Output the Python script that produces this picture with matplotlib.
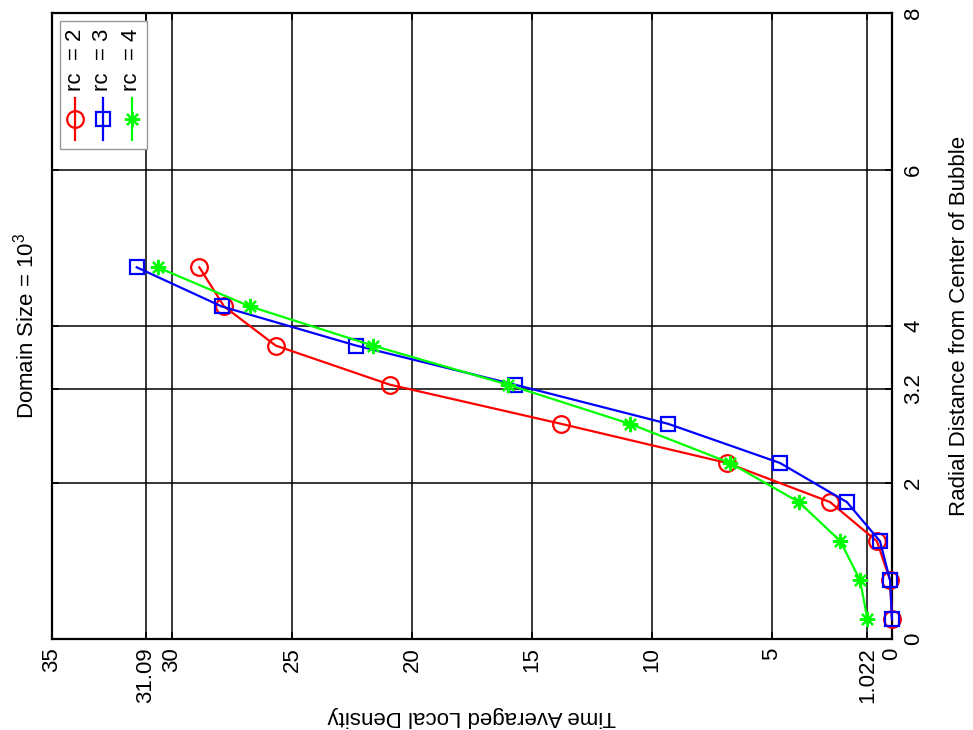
import numpy as np
import matplotlib.pyplot as plt

plt.rcParams['font.family'] = ['Liberation Sans', 'DejaVu Sans']
plt.rcParams['mathtext.default'] = 'regular'

# radial distance from bubble centre (vertical axis in the rotated picture)
radius = [0.25, 0.75, 1.25, 1.75, 2.25, 2.75, 3.25, 3.75, 4.25, 4.75]

# time averaged local density for each rc
dens_rc2 = [0.0, 0.08, 0.63, 2.58, 6.88, 13.79, 20.92, 25.68, 27.83, 28.86]
dens_rc3 = [0.0, 0.08, 0.50, 1.88, 4.67, 9.33, 15.71, 22.33, 27.93, 31.47]
dens_rc4 = [1.022, 1.33, 2.15, 3.88, 6.75, 10.92, 16.0, 21.64, 26.75, 30.6]

labels = ['rc  = 2', 'rc  = 3', 'rc  = 4']
colors = ['#ff0000', '#0000ff', '#00ff00']
markers = ['o', 's', (8, 2, 0)]
msizes = [12, 10, 11]

dens_ticks = [35, 31.09, 30, 25, 20, 15, 10, 5, 1.022, 0]
dens_ticklabels = ['35', '31.09', '30', '25', '20', '15', '10', '5', '1.022', '0']
rad_ticks = [0, 2, 3.2, 4, 6, 8]
rad_ticklabels = ['0', '2', '3.2', '4', '6', '8']

fig = plt.figure(figsize=(9.73, 7.30), dpi=100)
ax = fig.add_axes([52/973, 91/730, 840/973, 626/730])

series = [dens_rc2, dens_rc3, dens_rc4]
for d, c, m, ms in zip(series, colors, markers, msizes):
    ax.plot(d, radius, color=c, lw=1.6, marker=m, ms=ms, mfc='none',
            mec=c, mew=1.6, zorder=3, clip_on=False)

ax.set_xlim(35, 0)
ax.set_ylim(0, 8)
ax.set_xticks(dens_ticks)
ax.set_xticklabels(dens_ticklabels, rotation=90, fontsize=16)
ax.set_yticks(rad_ticks)
ax.set_yticklabels(rad_ticklabels, rotation=90, fontsize=16, va='center')
ax.yaxis.tick_right()
ax.yaxis.set_label_position('right')
ax.tick_params(direction='in', length=5, width=1.2, top=True, bottom=True,
               left=True, right=True, labelleft=False, labelright=True)
ax.tick_params(axis='x', pad=6)
ax.tick_params(axis='y', pad=8)

ax.grid(True, color='black', lw=1.1, ls='-')
for s in ax.spines.values():
    s.set_linewidth(1.6)

ax.set_xlabel('Time Averaged Local Density', fontsize=16, rotation=180,
              labelpad=2)
ax.set_ylabel('Radial Distance from Center of Bubble', fontsize=16,
              rotation=90, labelpad=18)
ax.text(-0.032, 0.5, 'Domain Size = 10$^{3}$', transform=ax.transAxes,
        rotation=90, ha='center', va='center', fontsize=16)

# legend drawn by hand, rotated like the rest of the figure
box = plt.Rectangle((0.0095, 0.783), 0.1035, 0.204, transform=ax.transAxes,
                    facecolor='white', edgecolor='#999999', lw=1.0, zorder=5)
ax.add_patch(box)
leg_x = [0.0274, 0.0607, 0.0952]
for lx, lab, c, m, ms in zip(leg_x, labels, colors, markers, msizes):
    ax.plot([lx, lx], [0.797, 0.864], color=c, lw=1.6, transform=ax.transAxes,
            clip_on=False, zorder=6)
    ax.plot([lx], [0.831], color=c, marker=m, ms=ms, mfc='none', mec=c,
            mew=1.6, transform=ax.transAxes, clip_on=False, zorder=6)
    ax.text(lx, 0.876, lab, transform=ax.transAxes, rotation=90, ha='center',
            va='bottom', fontsize=16, zorder=6)

fig.savefig('out.png', dpi=100)
